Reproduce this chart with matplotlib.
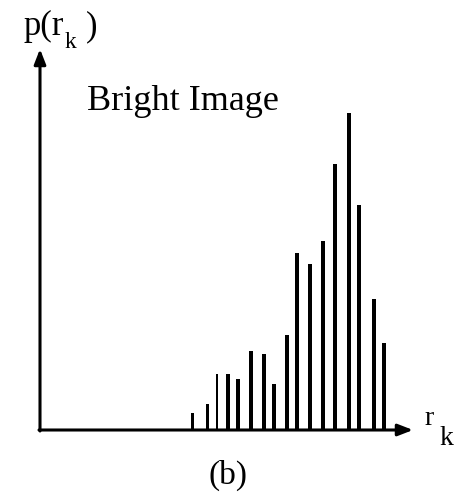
import matplotlib
matplotlib.use("Agg")
import matplotlib.pyplot as plt
import numpy as np

# Histogram of a bright image: gray level r_k vs. p(r_k)
r_k = [152, 167.7, 176.7, 188.3, 198.3, 211, 224, 234.3, 247, 257.3,
       270.3, 282.7, 295.3, 308.7, 319, 334.3, 344.3]
p_rk = [17.3, 25.7, 56, 56, 50.7, 79.3, 76, 46, 94.7, 176.7,
        166.3, 189.3, 266.3, 317.3, 225, 130.7, 86.7]
bar_w = [3, 3, 2, 4, 4, 4, 4, 4, 4, 4, 4, 4, 4, 4, 4, 4, 4]

title = "Bright Image"
caption = "(b)"

serif = 'Liberation Serif'

fig = plt.figure(figsize=(4.58, 4.99), dpi=100)
ax = fig.add_axes([0, 0, 1, 1])
ax.set_xlim(-40, 418)
ax.set_ylim(-69, 430)
ax.axis('off')

ax.bar(r_k, p_rk, width=bar_w, color='black', align='center')

# axes with arrow heads
arrow = dict(arrowstyle='-|>,head_length=0.9,head_width=0.35', color='black',
             lw=2.2, shrinkA=0, shrinkB=0)
ax.annotate('', xy=(0, 381), xytext=(0, -1), arrowprops=arrow)
ax.annotate('', xy=(373, 0), xytext=(-1, 0), arrowprops=arrow)

# y label p(r_k)
ax.text(-17, 395, 'p(r', fontsize=25, family=serif, va='baseline', ha='left')
ax.text(25, 382, 'k', fontsize=17, family=serif, va='baseline', ha='left')
ax.text(46, 395, ')', fontsize=25, family=serif, va='baseline', ha='left')

# x label r_k
ax.text(384, 5, 'r', fontsize=20, family=serif, va='baseline', ha='left')
ax.text(399, -15, 'k', fontsize=20, family=serif, va='baseline', ha='left')

ax.text(47, 320, title, fontsize=26, family=serif, va='baseline', ha='left')
ax.text(188, -45, caption, fontsize=24, family=serif, va='center', ha='center')

fig.savefig('out.png', dpi=100)
